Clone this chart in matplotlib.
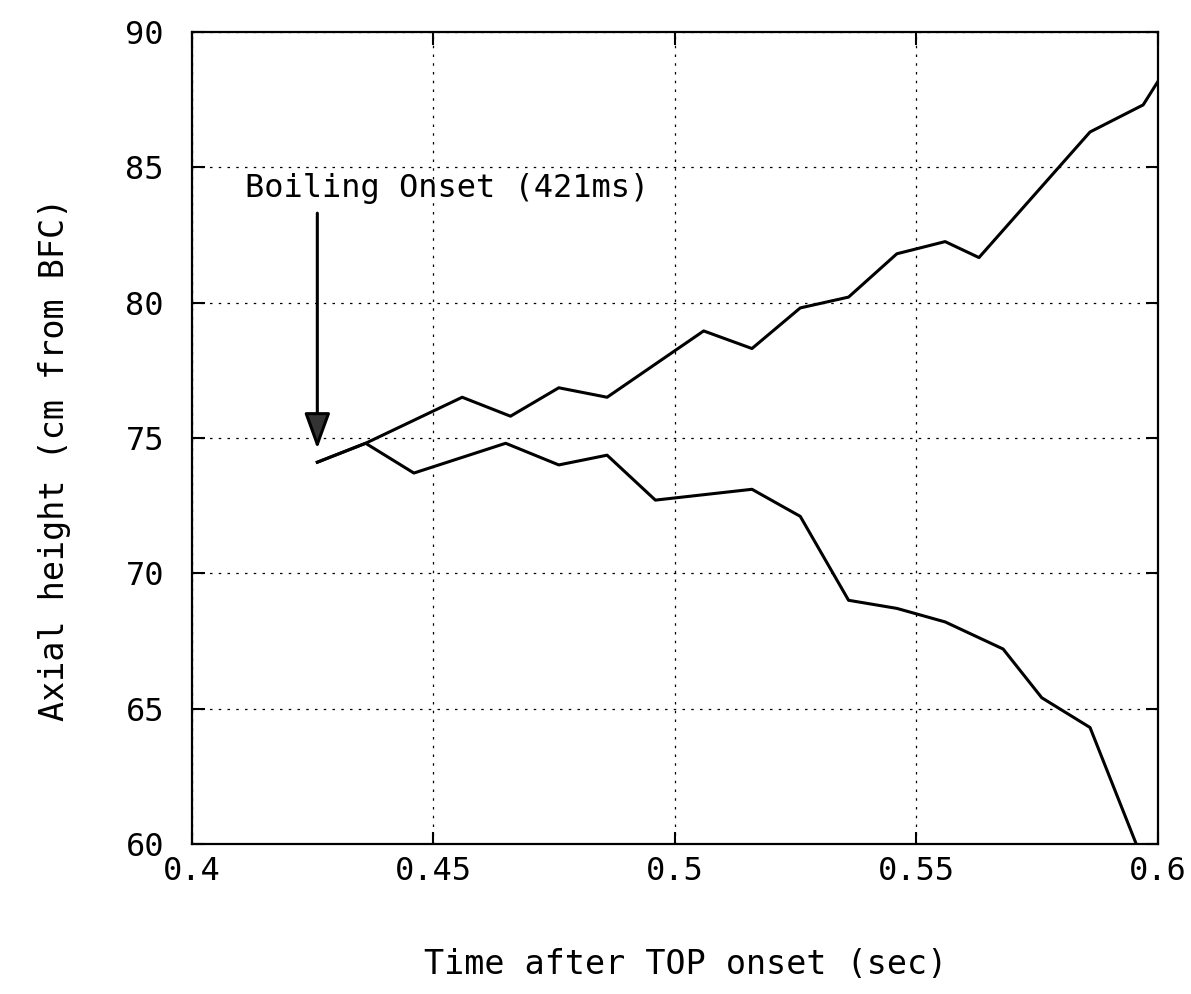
import numpy as np
import matplotlib
matplotlib.use('Agg')
import matplotlib.pyplot as plt

# front positions after boiling onset (sec, cm from BFC)
t_up = [0.426, 0.436, 0.456, 0.466, 0.476, 0.486, 0.506, 0.516, 0.526,
        0.536, 0.546, 0.556, 0.563, 0.586, 0.597, 0.600]
z_up = [74.1, 74.8, 76.5, 75.8, 76.85, 76.5, 78.95, 78.3, 79.8,
        80.2, 81.8, 82.25, 81.66, 86.3, 87.3, 88.15]

t_dn = [0.426, 0.436, 0.446, 0.465, 0.476, 0.486, 0.496, 0.516, 0.526,
        0.536, 0.546, 0.556, 0.568, 0.576, 0.586, 0.596]
z_dn = [74.1, 74.8, 73.7, 74.8, 74.0, 74.36, 72.7, 73.1, 72.1,
        69.0, 68.7, 68.2, 67.2, 65.4, 64.3, 59.8]

onset_t = 0.426
xticks = [0.4, 0.45, 0.5, 0.55, 0.6]
xticklabels = ['0.4', '0.45', '0.5', '0.55', '0.6']
yticks = [60, 65, 70, 75, 80, 85, 90]

plt.rcParams['font.family'] = ['DejaVu Sans Mono']

fig = plt.figure(figsize=(11.91, 9.94), dpi=100)
ax = fig.add_axes([0.161, 0.151, 0.811, 0.817])

ax.plot(t_up, z_up, color='k', lw=2.2)
ax.plot(t_dn, z_dn, color='k', lw=2.2)

ax.set_xlim(0.4, 0.6)
ax.set_ylim(60, 90)
ax.set_xticks(xticks)
ax.set_xticklabels(xticklabels)
ax.set_yticks(yticks)

ax.grid(True, color='k', linestyle=(0, (2, 5)), linewidth=0.9)
ax.tick_params(direction='in', length=9, width=1.5, top=True, right=True,
               labelsize=23)
ax.tick_params(axis='x', pad=9)
ax.tick_params(axis='y', pad=20)
for sp in ax.spines.values():
    sp.set_linewidth(1.6)

ax.annotate('', xy=(onset_t, 74.6), xytext=(onset_t, 83.3),
            arrowprops=dict(arrowstyle='-|>,head_length=2.2,head_width=0.8',
                            mutation_scale=10, color='k', fc='0.2', lw=2.2,
                            shrinkA=0, shrinkB=0))
ax.text(0.411, 84.2, 'Boiling Onset (421ms)', ha='left', va='center',
        fontsize=23)

ax.set_xlabel('Time after TOP onset (sec)', fontsize=24)
ax.set_ylabel('Axial height (cm from BFC)', fontsize=24)
ax.xaxis.set_label_coords(0.511, -0.149)
ax.xaxis.label.set_va('center')
ax.yaxis.set_label_coords(-0.142, 0.473)
ax.yaxis.label.set_va('center')

plt.savefig('out.png', dpi=100)
